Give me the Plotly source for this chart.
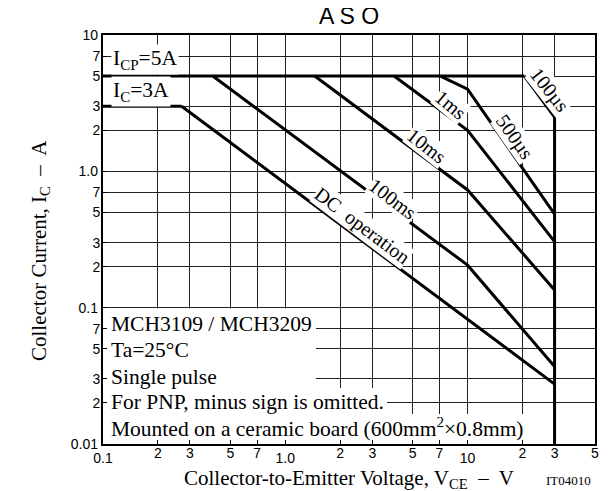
import numpy as np
import plotly.graph_objects as go

# ---------------- data ----------------
x_minor_vals = [0.2, 0.3, 0.5, 0.7, 2, 3, 5, 7, 20, 30, 50]
x_minor_text = ["2", "3", "5", "7", "2", "3", "5", "7", "2", "3", "5"]
x_major_vals = [0.1, 1, 10]
x_major_text = ["0.1", "1.0", "10"]

y_minor_vals = [0.02, 0.03, 0.05, 0.07, 0.2, 0.3, 0.5, 0.7, 2, 3, 5, 7]
y_minor_text = ["2", "3", "5", "7", "2", "3", "5", "7", "2", "3", "5", "7"]
y_major_vals = [0.01, 0.1, 1, 10]
y_major_text = ["0.01", "0.1", "1.0", "10"]

icp_v = [0.1, 20.5]
icp_i = [5, 5]
ic_v = [0.1, 0.27]
ic_i = [3, 3]
dc_v = [0.27, 30]
dc_i = [3, 0.0275]
t100ms_v = [0.4, 10, 30]
t100ms_i = [5, 0.205, 0.037]
t10ms_v = [1.45, 10, 30]
t10ms_i = [5, 0.73, 0.135]
t1ms_v = [3.95, 10, 30]
t1ms_i = [5, 2.0, 0.305]
t500us_v = [7.1, 10, 30]
t500us_i = [5, 4.0, 0.485]
t100us_v = [20.5, 30, 30]
t100us_i = [5, 2.5, 0.01]

curves = [
    (icp_v, icp_i), (ic_v, ic_i), (dc_v, dc_i), (t100ms_v, t100ms_i),
    (t10ms_v, t10ms_i), (t1ms_v, t1ms_i), (t500us_v, t500us_i),
    (t100us_v, t100us_i),
]

# ---------------- layout helpers ----------------
# screen coordinates (page has an 8px body margin)
OFF = 8
SW, SH = 609, 491
W, H = SW - OFF, SH - OFF
L, R, T, B = 103, 595, 35, 444


def pxx(x):
    return (x - L) / (R - L)


def pxy(y):
    return (B - y) / (B - T)


SERIF = "Liberation Serif, Times New Roman, serif"
SANS = "Liberation Sans, Arial, sans-serif"

fig = go.Figure()
for xv, yv in curves:
    fig.add_trace(go.Scatter(x=xv, y=yv, mode="lines",
                             line=dict(color="black", width=3),
                             hoverinfo="skip", showlegend=False))

# invisible trace for overlay axes carrying the major ticks
fig.add_trace(go.Scatter(x=[1], y=[1], xaxis="x2", yaxis="y2", mode="markers",
                         marker=dict(opacity=0), hoverinfo="skip",
                         showlegend=False))

tickfont = dict(family=SANS, size=14, color="black")
grid = dict(showgrid=True, gridcolor="#222", gridwidth=1, zeroline=False,
            ticks="inside", ticklen=4, tickcolor="black", tickmode="array",
            automargin=False, tickfont=tickfont, type="log")

fig.update_layout(
    width=W, height=H,
    margin=dict(l=L - OFF, r=SW - R, t=T - OFF, b=SH - B),
    paper_bgcolor="white", plot_bgcolor="white",
    xaxis=dict(range=[-1, np.log10(50)], tickvals=x_minor_vals,
               ticktext=x_minor_text, ticklabelstandoff=-5,
               showline=True, mirror=True, linecolor="black", linewidth=2,
               **grid),
    yaxis=dict(range=[-2, 1], tickvals=y_minor_vals,
               ticktext=y_minor_text, ticklabelstandoff=-2,
               showline=True, mirror=True, linecolor="black", linewidth=2,
               **grid),
    xaxis2=dict(range=[-1, np.log10(50)], overlaying="x", anchor="y",
                side="bottom", showline=False, tickvals=x_major_vals,
                ticktext=x_major_text, ticklabelstandoff=4, **grid),
    yaxis2=dict(range=[-2, 1], overlaying="y", anchor="x", side="left",
                showline=False, tickvals=y_major_vals,
                ticktext=y_major_text, ticklabelstandoff=4, **grid),
    showlegend=False,
)

# white panels behind the condition text (hide grid lines)
panels = [
    (pxx(107), pxx(316), pxy(388), pxy(308.5)),
    (pxx(107), pxx(387), pxy(414), pxy(388)),
    (pxx(107), pxx(528), pxy(440), pxy(414)),
]
for x0, x1, y0, y1 in panels:
    fig.add_shape(type="rect", xref="paper", yref="paper", x0=x0,
                  x1=x1, y0=y0, y1=y1, fillcolor="white",
                  line=dict(width=0), layer="above")

ann = []
# title
ann.append(dict(text="A S O", x=0.5, y=16.5, font=dict(family=SANS, size=23)))
# axis titles
ann.append(dict(text="Collector-to-Emitter Voltage, V<sub>CE</sub>  –  V",
                x=0.5, y=479, font=dict(family=SERIF, size=21)))
ann.append(dict(text="Collector Current, I<sub>C</sub>  –  A",
                x=pxx(40), y=251, textangle=-90,
                font=dict(family=SERIF, size=21)))
ann.append(dict(text="IT04010", x=pxx(593), y=480, xanchor="right",
                font=dict(family=SERIF, size=13)))

# current limits
ann.append(dict(text="I<sub>CP</sub>=5A", x=pxx(111), y=59, xanchor="left",
                font=dict(family=SERIF, size=21.5), bgcolor="white"))
ann.append(dict(text="I<sub>C</sub>=3A", x=pxx(111), y=91.5, xanchor="left",
                font=dict(family=SERIF, size=21.5), bgcolor="white"))

# curve labels
curve_labels = [
    ("100µs", 550, 90, 52),
    ("500µs", 515, 137, 55),
    ("1ms", 451, 105, 40),
    ("10ms", 427, 146, 38),
    ("100ms", 393, 199, 37),
    ("DC  operation", 362, 225, 37),
]
for txt, cx, cy, ang in curve_labels:
    ann.append(dict(text=txt, x=pxx(cx), y=cy, textangle=ang,
                    font=dict(family=SERIF, size=20), bgcolor="white",
                    borderpad=0))

# conditions
cond = ["MCH3109 / MCH3209", "Ta=25°C", "Single pulse",
        "For PNP, minus sign is omitted.",
        "Mounted on a ceramic board (600mm<sup>2</sup>×0.8mm)"]
cond_y = [324, 350, 376.5, 401.5, 427]
for txt, cy in zip(cond, cond_y):
    ann.append(dict(text=txt, x=pxx(109), y=cy, xanchor="left",
                    font=dict(family=SERIF, size=21.5)))

for a in ann:
    a.setdefault("xanchor", "center")
    a["y"] = pxy(a["y"])
    a.update(xref="paper", yref="paper", showarrow=False, yanchor="middle")
    a["font"]["color"] = "black"
    fig.add_annotation(**a)

fig.write_html("out.html")
